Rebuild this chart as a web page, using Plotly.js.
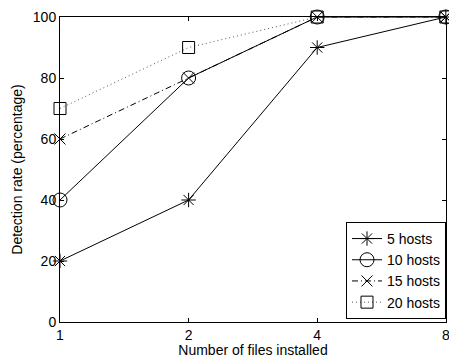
<!DOCTYPE html>
<html>
<head>
<meta charset="utf-8">
<script src="https://cdn.plot.ly/plotly-3.0.1.min.js"></script>
<style>html,body{margin:0;padding:0;background:#fff;}</style>
</head>
<body>
<div id="chart" style="width:449px;height:358px;"></div>
<script>
const filesInstalled = [1, 2, 4, 8];
const hosts5 = [20, 40, 90, 100];
const hosts10 = [40, 80, 100, 100];
const hosts15 = [60, 80, 100, 100];
const hosts20 = [70, 90, 100, 100];
const seriesNames = ['5 hosts', '10 hosts', '15 hosts', '20 hosts'];
const xTicks = [1, 2, 4, 8];
const yTicks = [0, 20, 40, 60, 80, 100];

const font = {family: 'Liberation Sans, Arial, sans-serif', size: 14, color: '#000'};

function tr(y, name, symbol, size, dash, color) {
  return {
    x: filesInstalled, y: y, name: name, type: 'scatter', mode: 'lines+markers',
    line: {color: color, width: 1, dash: dash},
    marker: {symbol: symbol, size: size, color: '#000', line: {color: '#000', width: 1}},
    cliponaxis: false
  };
}

const data = [
  tr(hosts5, seriesNames[0], 'asterisk-open', 12, 'solid', '#000'),
  tr(hosts10, seriesNames[1], 'circle-open', 14, 'solid', '#000'),
  tr(hosts15, seriesNames[2], 'x-thin-open', 11, '6px,3px,1px,3px', '#000'),
  tr(hosts20, seriesNames[3], 'square-open', 12, '1px,3px', '#555')
];

const layout = {
  width: 449, height: 358,
  margin: {l: 60, r: 3, t: 17, b: 36},
  paper_bgcolor: '#fff', plot_bgcolor: '#fff',
  font: font,
  showlegend: true,
  legend: {
    x: 1, y: 0.01, xanchor: 'right', yanchor: 'bottom',
    xref: 'paper', yref: 'paper',
    bgcolor: '#fff', bordercolor: '#000', borderwidth: 1,
    font: font, tracegroupgap: 0, itemwidth: 30
  },
  xaxis: {
    type: 'log', range: [0, Math.log10(8) * 1.0005],
    tickvals: xTicks, ticktext: xTicks.map(String),
    ticks: 'inside', ticklen: 4, tickcolor: '#000',
    ticklabeloverflow: 'allow',
    showline: true, linecolor: '#000', linewidth: 1, mirror: 'ticks',
    showgrid: false, zeroline: false,
    tickfont: font,
    title: {text: 'Number of files installed', font: font, standoff: 0}
  },
  yaxis: {
    range: [0, 100], tickvals: yTicks,
    ticks: 'inside', ticklen: 4, tickcolor: '#000',
    showline: true, linecolor: '#000', linewidth: 1, mirror: 'ticks',
    showgrid: false, zeroline: false,
    tickfont: font,
    title: {text: 'Detection rate (percentage)', font: font, standoff: 6}
  }
};

Plotly.newPlot('chart', data, layout, {displayModeBar: false, staticPlot: true});
</script>
</body>
</html>
